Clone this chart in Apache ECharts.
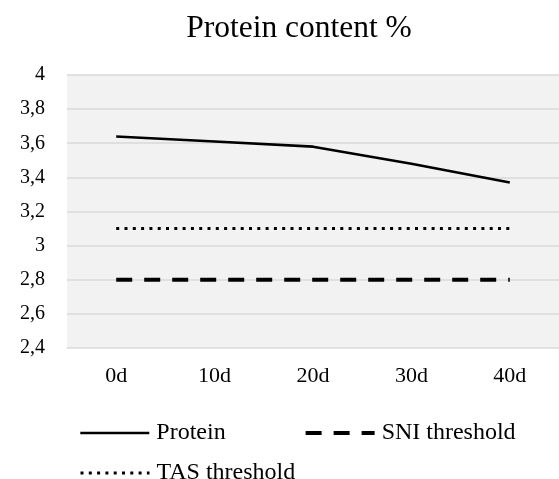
<!DOCTYPE html>
<html>
<head>
<meta charset="utf-8">
<script src="https://cdn.jsdelivr.net/npm/echarts@6/dist/echarts.min.js"></script>
<style>html,body{margin:0;padding:0;background:#fff}#c{width:559px;height:479px}</style>
</head>
<body>
<div id="c"></div>
<script>
const categories = ['0d', '10d', '20d', '30d', '40d'];
const protein = [3.64, 3.61, 3.58, 3.48, 3.37];
const sniThreshold = [2.8, 2.8, 2.8, 2.8, 2.8];
const tasThreshold = [3.1, 3.1, 3.1, 3.1, 3.1];
const yTicks = {min: 2.4, max: 4, interval: 0.2};

const FONT = '"Liberation Serif", "Times New Roman", serif';
const chart = echarts.init(document.getElementById('c'));
const legendCommon = {
  padding: 0, itemWidth: 69, itemHeight: 14,
  itemStyle: {opacity: 0},
  lineStyle: {width: 'inherit'},
  textStyle: {fontFamily: FONT, fontSize: 24, color: '#000', padding: [0, 0, 0, 2]}
};
chart.setOption({
  animation: false,
  title: {
    text: 'Protein content %',
    left: 294, top: 8, textAlign: 'center',
    textStyle: {fontFamily: FONT, fontSize: 31.5, fontWeight: 'normal', color: '#000'}
  },
  legend: [
    Object.assign({data: ['Protein', 'SNI threshold'], left: 79, top: 421, itemGap: 78}, legendCommon),
    Object.assign({data: ['TAS threshold'], left: 79, top: 461}, legendCommon)
  ],
  grid: {
    left: 67, right: 0, top: 75, bottom: 131,
    show: true, backgroundColor: '#f2f2f2', borderWidth: 0
  },
  xAxis: {
    type: 'category', data: categories, boundaryGap: true,
    axisLine: {show: false}, axisTick: {show: false},
    axisLabel: {fontFamily: FONT, fontSize: 22, color: '#000', margin: 17}
  },
  yAxis: {
    type: 'value', min: yTicks.min, max: yTicks.max, interval: yTicks.interval,
    axisLine: {show: false}, axisTick: {show: false},
    splitLine: {lineStyle: {color: '#d9d9d9', width: 1.5}},
    axisLabel: {
      fontFamily: FONT, fontSize: 20, color: '#000', margin: 22,
      formatter: v => String(Number(v.toFixed(1))).replace('.', ',')
    }
  },
  series: [
    {
      name: 'Protein', type: 'line', data: protein, symbol: 'none',
      lineStyle: {color: '#000', width: 2.6}, itemStyle: {color: '#000'}
    },
    {
      name: 'SNI threshold', type: 'line', data: sniThreshold, symbol: 'none',
      lineStyle: {color: '#000', width: 4, type: [16, 12]}, itemStyle: {color: '#000'}
    },
    {
      name: 'TAS threshold', type: 'line', data: tasThreshold, symbol: 'none',
      lineStyle: {color: '#000', width: 3, type: [3, 5.3]}, itemStyle: {color: '#000'}
    }
  ]
});
</script>
</body>
</html>
